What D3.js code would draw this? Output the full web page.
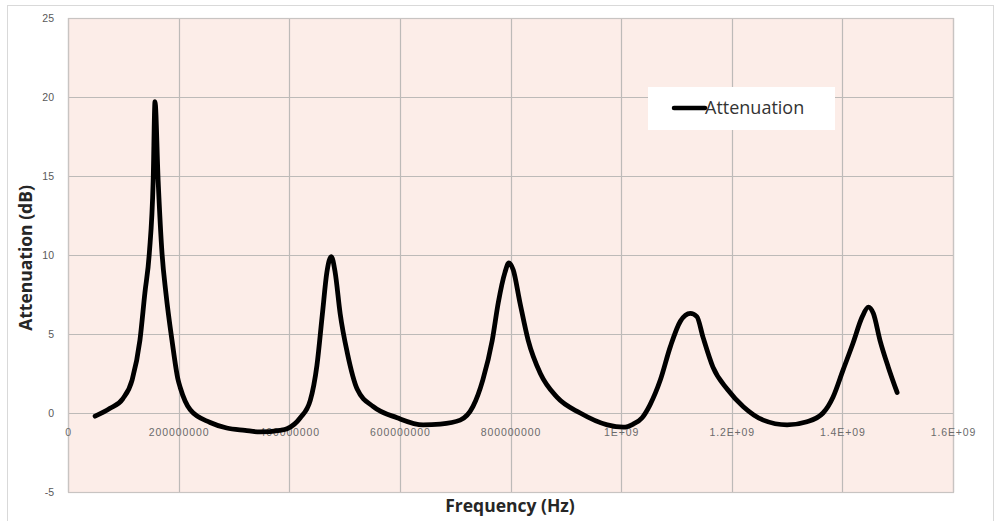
<!DOCTYPE html>
<html>
<head>
<meta charset="utf-8">
<script src="https://cdn.jsdelivr.net/npm/d3@7"></script>
<style>
  html, body { margin: 0; padding: 0; background: #fff; }
  svg { display: block; }
</style>
</head>
<body>
<svg id="chart" width="997" height="521"></svg>
<script>
// Data (frequency in Hz, attenuation in dB)
const freqs = [
  4.9e7, 7.6e7, 9.9e7, 1.16e8, 1.30e8, 1.39e8, 1.47e8, 1.54e8, 1.573e8,
  1.63e8, 1.70e8, 1.77e8, 1.88e8, 1.99e8, 2.03e8, 2.21e8, 2.57e8, 2.87e8, 3.2e8, 3.47e8,
  3.83e8, 3.96e8, 4.2e8, 4.38e8, 4.5e8, 4.6e8, 4.68e8, 4.76e8,
  4.83e8, 4.92e8, 5.05e8, 5.23e8, 5.52e8, 5.95e8, 6.42e8, 6.73e8, 7.09e8,
  7.32e8, 7.5e8, 7.67e8, 7.78e8, 7.90e8, 7.97e8,
  8.05e8, 8.17e8, 8.32e8, 8.54e8, 8.84e8, 9.26e8, 9.75e8, 1.004e9, 1.022e9,
  1.038e9, 1.052e9, 1.071e9, 1.089e9, 1.107e9, 1.125e9,
  1.137e9, 1.148e9, 1.166e9, 1.192e9, 1.221e9, 1.257e9, 1.300e9, 1.336e9,
  1.365e9, 1.383e9, 1.401e9, 1.419e9, 1.436e9, 1.447e9,
  1.456e9, 1.468e9, 1.483e9, 1.499e9
];
const attenuation = [
  -0.2, 0.3, 0.9, 2.1, 4.6, 7.6, 10.1, 14.7, 19.7,
  14.7, 10.1, 7.6, 4.6, 2.1, 1.6, 0.2, -0.6, -0.95, -1.1, -1.2,
  -1.1, -1.0, -0.3, 0.8, 3.0, 6.3, 8.9, 9.9,
  8.9, 6.3, 3.8, 1.5, 0.4, -0.3, -0.75, -0.7, -0.45,
  0.4, 2.1, 4.6, 7.0, 8.9, 9.5,
  9.05, 7.0, 4.6, 2.5, 1.0, 0.0, -0.75, -0.9, -0.7,
  -0.3, 0.5, 2.1, 4.2, 5.8, 6.3,
  6.1, 4.8, 2.9, 1.5, 0.4, -0.45, -0.75, -0.55,
  0.0, 1.0, 2.7, 4.4, 6.1, 6.7,
  6.3, 4.6, 2.9, 1.3
];
const seriesName = "Attenuation";
const xTickValues = [0, 2e8, 4e8, 6e8, 8e8, 1e9, 1.2e9, 1.4e9, 1.6e9];
const xTickLabels = ["0", "200000000", "400000000", "600000000", "800000000", "1E+09", "1.2E+09", "1.4E+09", "1.6E+09"];
const yTickValues = [-5, 0, 5, 10, 15, 20, 25];
const yTickLabels = ["-5", "0", "5", "10", "15", "20", "25"];
const xTitle = "Frequency (Hz)";
const yTitle = "Attenuation (dB)";

const svg = d3.select("#chart");
const plot = { left: 68, right: 953, top: 18, bottom: 492 };

// outer chart border
svg.append("rect")
  .attr("x", 7.5).attr("y", 5.5).attr("width", 986).attr("height", 520)
  .attr("fill", "#fff").attr("stroke", "#d9d9d9").attr("stroke-width", 1);

const x = d3.scaleLinear().domain([0, 1.6e9]).range([plot.left, plot.right]);
const y = d3.scaleLinear().domain([-5, 25]).range([plot.bottom, plot.top]);

// plot background
svg.append("rect")
  .attr("x", plot.left).attr("y", plot.top)
  .attr("width", plot.right - plot.left).attr("height", plot.bottom - plot.top)
  .attr("fill", "#fcede8");

// gridlines
const grid = svg.append("g").attr("stroke", "#bdbab8").attr("stroke-width", 1.2);
xTickValues.forEach(v => {
  grid.append("line")
    .attr("x1", Math.round(x(v)) + 0.5).attr("x2", Math.round(x(v)) + 0.5)
    .attr("y1", plot.top).attr("y2", plot.bottom);
});
yTickValues.forEach(v => {
  grid.append("line")
    .attr("x1", plot.left).attr("x2", plot.right)
    .attr("y1", Math.round(y(v)) + 0.5).attr("y2", Math.round(y(v)) + 0.5);
});

// plot border
svg.append("rect")
  .attr("x", plot.left + 0.5).attr("y", plot.top + 0.5)
  .attr("width", plot.right - plot.left).attr("height", plot.bottom - plot.top)
  .attr("fill", "none").attr("stroke", "#c8c4c2").attr("stroke-width", 1.2);

// y axis labels
const yLabelMap = new Map(yTickValues.map((v, i) => [v, yTickLabels[i]]));
const yAxis = d3.axisLeft(y).tickValues(yTickValues).tickSize(0).tickPadding(0)
  .tickFormat(d => yLabelMap.get(d));
const gy = svg.append("g").attr("transform", `translate(${plot.left - 14},0)`).call(yAxis);
gy.select(".domain").remove();
gy.selectAll("text")
  .attr("fill", "#595959").attr("font-family", "'Liberation Sans', Arial, sans-serif")
  .attr("font-size", 10.5);

// x axis labels (axis crosses at y = 0)
const labelMap = new Map(xTickValues.map((v, i) => [v, xTickLabels[i]]));
const xAxis = d3.axisBottom(x).tickValues(xTickValues).tickSize(0).tickPadding(0)
  .tickFormat(d => labelMap.get(d));
const gx = svg.append("g").attr("transform", `translate(0,${y(0) + 23})`).call(xAxis);
gx.select(".domain").remove();
gx.selectAll("text")
  .attr("dy", 0)
  .attr("fill", "#6b6b6b").attr("font-family", "'Liberation Sans', Arial, sans-serif")
  .attr("font-size", 10.5)
  .attr("letter-spacing", 0.9);

// line
const data = freqs.map((f, i) => ({ f, a: attenuation[i] }));
const line = d3.line().x(d => x(d.f)).y(d => y(d.a)).curve(d3.curveMonotoneX);
svg.append("path")
  .datum(data)
  .attr("d", line)
  .attr("fill", "none")
  .attr("stroke", "#000")
  .attr("stroke-width", 4.8)
  .attr("stroke-linejoin", "round")
  .attr("stroke-linecap", "round");

// titles
svg.append("text")
  .attr("x", 510).attr("y", 512)
  .attr("text-anchor", "middle")
  .attr("font-family", "'Open Sans', 'Noto Sans', sans-serif")
  .attr("font-weight", "bold").attr("font-size", 17.5)
  .attr("fill", "#262626")
  .text(xTitle);
svg.append("text")
  .attr("transform", "translate(32,258) rotate(-90)")
  .attr("text-anchor", "middle")
  .attr("font-family", "'Open Sans', 'Noto Sans', sans-serif")
  .attr("font-weight", "bold").attr("font-size", 17.5)
  .attr("fill", "#262626")
  .text(yTitle);

// legend
const lg = svg.append("g");
lg.append("rect")
  .attr("x", 648).attr("y", 87).attr("width", 187).attr("height", 43)
  .attr("fill", "#fff");
lg.append("line")
  .attr("x1", 674).attr("x2", 705).attr("y1", 108).attr("y2", 108)
  .attr("stroke", "#000").attr("stroke-width", 4.5).attr("stroke-linecap", "round");
lg.append("text")
  .attr("x", 705).attr("y", 114)
  .attr("font-family", "'Open Sans', 'Noto Sans', sans-serif")
  .attr("font-size", 18).attr("fill", "#333")
  .text(seriesName);
</script>
</body>
</html>
